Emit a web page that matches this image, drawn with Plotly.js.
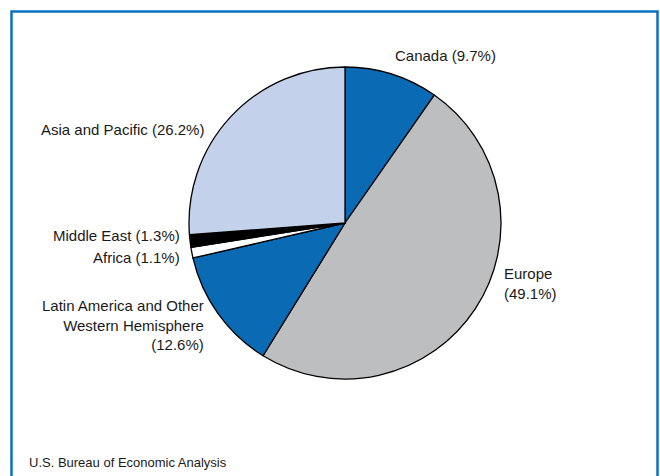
<!DOCTYPE html>
<html>
<head>
<meta charset="utf-8">
<script src="https://cdn.plot.ly/plotly-3.0.1.min.js"></script>
<style>html,body{margin:0;padding:0;background:#fff;}#chart{width:660px;height:476px;}</style>
</head>
<body>
<div id="chart"></div>
<script>
const regions = ["Canada", "Europe", "Latin America and Other Western Hemisphere", "Africa", "Middle East", "Asia and Pacific"];
const shares = [9.7, 49.1, 12.6, 1.1, 1.3, 26.2];
const sliceColors = ["#0a6ab4", "#bcbec0", "#0a6ab4", "#ffffff", "#000000", "#c3d2ea"];
const labelTexts = ["Canada (9.7%)", "Europe<br>(49.1%)", "Latin America and Other<br>Western Hemisphere<br>(12.6%)", "Africa (1.1%)", "Middle East (1.3%)", "Asia and Pacific (26.2%)"];
const sourceNote = "U.S. Bureau of Economic Analysis";

const W = 660, H = 476;
const px = x => x / W;
const py = y => 1 - y / H;
const FONT = "Liberation Sans, Arial, Helvetica, sans-serif";

// label placements (pixels) — positions only
const labelPos = [
  {x: 393, y: 55, xa: "left", ya: "middle"},
  {x: 502, y: 283, xa: "left", ya: "middle"},
  {x: 206, y: 325, xa: "right", ya: "middle"},
  {x: 182, y: 257, xa: "right", ya: "middle"},
  {x: 182, y: 235, xa: "right", ya: "middle"},
  {x: 206, y: 130, xa: "right", ya: "middle"}
];

const annotations = labelTexts.map((t, i) => ({
  text: t, x: px(labelPos[i].x), y: py(labelPos[i].y), xref: "paper", yref: "paper",
  xanchor: labelPos[i].xa, yanchor: labelPos[i].ya, align: labelPos[i].xa,
  showarrow: false, font: {family: FONT, size: 15, color: "#1a1a1a"}
}));
annotations.push({
  text: sourceNote, x: px(27), y: py(462), xref: "paper", yref: "paper",
  xanchor: "left", yanchor: "middle", showarrow: false,
  font: {family: FONT, size: 13, color: "#1a1a1a"}
});

const trace = {
  type: "pie",
  labels: regions,
  values: shares,
  sort: false,
  direction: "clockwise",
  rotation: 0,
  textinfo: "none",
  hoverinfo: "label+percent",
  marker: {colors: sliceColors, line: {color: "#000000", width: 1.3}},
  domain: {x: [px(189), px(501)], y: [py(379), py(67)]},
  showlegend: false
};

const layout = {
  width: W, height: H,
  margin: {l: 0, r: 0, t: 0, b: 0},
  paper_bgcolor: "#ffffff",
  plot_bgcolor: "#ffffff",
  showlegend: false,
  annotations: annotations,
  shapes: [{
    type: "rect", xref: "paper", yref: "paper",
    x0: px(11.5), x1: px(657.5), y0: -0.05, y1: py(11.5),
    line: {color: "#0b70bd", width: 2.5}, fillcolor: "rgba(0,0,0,0)"
  }]
};

Plotly.newPlot("chart", [trace], layout, {displayModeBar: false, staticPlot: true});
</script>
</body>
</html>
